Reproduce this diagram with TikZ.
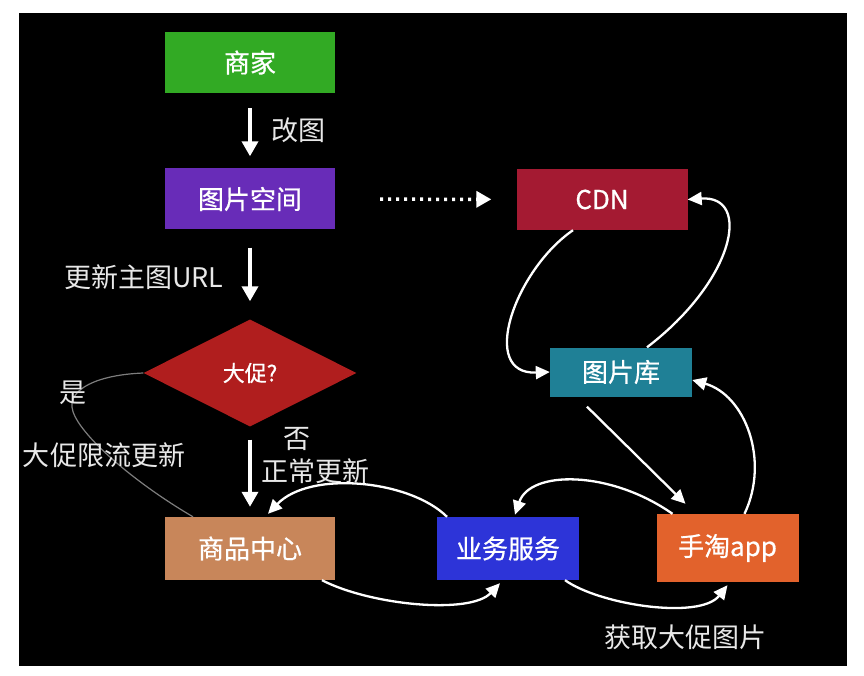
\documentclass[tikz,border=0pt]{standalone}
\usepackage{fontspec}
\setmainfont{Noto Sans CJK SC}
\newfontfamily\boxfont{Noto Sans CJK SC}[FakeBold=0.7]
\usetikzlibrary{arrows.meta,shapes.geometric}
\definecolor{cgreen}{RGB}{50,170,36}
\definecolor{cpurple}{RGB}{104,44,184}
\definecolor{ccrimson}{RGB}{164,26,50}
\definecolor{cdred}{RGB}{176,30,30}
\definecolor{cteal}{RGB}{31,128,150}
\definecolor{ctan}{RGB}{200,134,90}
\definecolor{cblue}{RGB}{45,52,216}
\definecolor{corange}{RGB}{226,98,44}
\definecolor{clbl}{RGB}{232,232,232}
\definecolor{cgray}{RGB}{125,125,125}
\tikzset{
  box/.style={minimum width=170pt, minimum height=61pt, inner sep=0pt, text=white, font=\boxfont\fontsize{26}{26}\selectfont},
  lbl/.style={inner sep=0pt, text=clbl, font=\fontsize{27}{27}\selectfont},
  bigarrow/.style={draw=white, line width=3.5pt, -{Triangle[length=15pt,width=16pt]}},
  curvearrow/.style={draw=white, line width=2.3pt, -{Triangle[length=14pt,width=13pt]}},
  dotarrow/.style={draw=white, line width=3.5pt, dash pattern=on 3pt off 5pt, -{Triangle[length=15pt,width=16pt]}}
}
\begin{document}
\begin{tikzpicture}[x=1pt,y=-1pt]
\useasboundingbox (0,0) rectangle (864,676);
\fill[white] (0,0) rectangle (864,676);
\fill[black] (19,13) rectangle (847,666);

\node[box, fill=cgreen] (shangjia) at (250,62.5) {商家};
\node[box, fill=cpurple] (kongjian) at (250,199) {图片空间};
\node[box, fill=ccrimson, minimum width=171pt] (cdn) at (602,199.5) {CDN};
\node[diamond, fill=cdred, minimum width=213pt, minimum height=107pt, inner sep=0pt, text=white, font=\boxfont\fontsize{22}{22}\selectfont] (dacu) at (250,373) {大促?};
\node[box, fill=cteal, minimum width=142pt, minimum height=49pt] (tupianku) at (621,372) {图片库};
\node[box, fill=ctan, minimum height=63pt] (shangpin) at (250,548.5) {商品中心};
\node[box, fill=cblue, minimum width=142pt, minimum height=63pt] (yewu) at (508,548.5) {业务服务};
\node[box, fill=corange, minimum width=142pt, minimum height=68pt] (shoutao) at (727.5,548) {手淘app};

% gray line (是 branch)
\draw[cgray, line width=1.2pt] (dacu.west) .. controls (95,375) and (70,390) .. (72,407)
  .. controls (74,430) and (130,480) .. ([xshift=-57pt]shangpin.north);

% labels
\node[lbl] (gaitu) at (298,130) {改图};
\node[lbl] (gengxin) at (144,277) {更新主图URL};
\node[lbl] (shi) at (73,393) {是};
\node[lbl] (xianliu) at (104,455) {大促限流更新};
\node[lbl] (fou) at (297,439) {否};
\node[lbl] (zhengchang) at (315,471) {正常更新};
\node[lbl] (huoqu) at (685,637) {获取大促图片};

% straight arrows
\draw[bigarrow, shorten <=15pt, shorten >=12pt] (shangjia) -- (kongjian);
\draw[bigarrow, shorten <=18pt, shorten >=18pt] (kongjian) -- (dacu);
\draw[bigarrow, shorten <=13pt, shorten >=10pt] (dacu) -- (shangpin);
\draw[dotarrow, shorten <=45pt, shorten >=25pt] (kongjian) -- (cdn);

% curved arrows
\draw[curvearrow] ([xshift=-29pt]cdn.south) .. controls (515,270) and (478,375) .. (tupianku.west);
\draw[curvearrow] ([xshift=26pt]tupianku.north) .. controls (735,280) and (752,195) .. (cdn.east);
\draw[curvearrow] ([xshift=-34pt,yshift=-10pt]tupianku.south) -- ([xshift=-42pt,yshift=10pt]shoutao.north);
\draw[curvearrow] ([xshift=17pt]shoutao.north) .. controls (770,460) and (745,395) .. ([yshift=-8pt]tupianku.east);
\draw[curvearrow] ([xshift=-55pt]shoutao.north) .. controls (610,470) and (530,470) .. ([xshift=7pt,yshift=2pt]yewu.north);
\draw[curvearrow] ([xshift=-61pt]yewu.north) .. controls (410,480) and (310,470) .. ([xshift=18pt,yshift=3pt]shangpin.north);
\draw[curvearrow] ([xshift=72pt]shangpin.south) .. controls (370,605) and (470,615) .. ([xshift=-8pt,yshift=-3pt]yewu.south);
\draw[curvearrow] ([xshift=57pt]yewu.south) .. controls (600,605) and (700,620) .. ([yshift=-3pt]shoutao.south);
\end{tikzpicture}
\end{document}
